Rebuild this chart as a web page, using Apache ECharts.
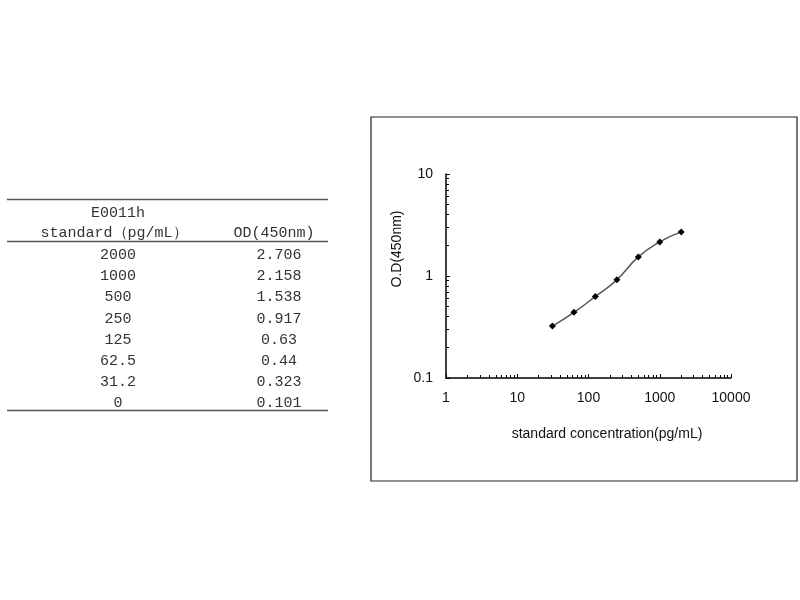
<!DOCTYPE html>
<html>
<head>
<meta charset="utf-8">
<script src="https://cdn.jsdelivr.net/npm/echarts@6/dist/echarts.min.js"></script>
<style>
html,body{margin:0;padding:0;background:#fff;}
#c{width:800px;height:600px;}
</style>
</head>
<body>
<div id="c"></div>
<script>
// ---- data ----
const tableTitle = 'E0011h';
const colHeaders = ['standard（pg/mL）', 'OD(450nm)'];
const standards = [2000, 1000, 500, 250, 125, 62.5, 31.2, 0];
const odValues = [2.706, 2.158, 1.538, 0.917, 0.63, 0.44, 0.323, 0.101];
const xTickValues = [1, 10, 100, 1000, 10000];
const yTickValues = [0.1, 1, 10];
const xName = 'standard concentration(pg/mL)';
const yName = 'O.D(450nm)';

// plotted points (log axis cannot show 0)
const points = standards.map((s, i) => [s, odValues[i]]).filter(p => p[0] > 0).reverse();

const chart = echarts.init(document.getElementById('c'), null, {renderer: 'canvas'});

const tableFont = '15px "Liberation Mono", "DejaVu Sans Mono", monospace';
const tableColor = '#333';
const chartFont = '14px "Liberation Sans", Arial, sans-serif';
const col1X = 118, col2X = 279;
const graphics = [];
// table rules
[199.5, 241.5, 410.5].forEach(y => {
  graphics.push({type: 'line', shape: {x1: 7, y1: y, x2: 328, y2: y}, style: {stroke: '#555', lineWidth: 1.5}});
});
graphics.push({type: 'text', x: col1X, y: 213, style: {text: tableTitle, font: tableFont, fill: tableColor, align: 'center', verticalAlign: 'middle'}});
graphics.push({type: 'text', x: col1X - 4, y: 233, style: {text: colHeaders[0], font: tableFont, fill: tableColor, align: 'center', verticalAlign: 'middle'}});
graphics.push({type: 'text', x: col2X - 5, y: 233, style: {text: colHeaders[1], font: tableFont, fill: tableColor, align: 'center', verticalAlign: 'middle'}});
standards.forEach((s, i) => {
  const y = 255 + i * 21.2;
  graphics.push({type: 'text', x: col1X, y: y, style: {text: String(s), font: tableFont, fill: tableColor, align: 'center', verticalAlign: 'middle'}});
  graphics.push({type: 'text', x: col2X, y: y, style: {text: String(odValues[i]), font: tableFont, fill: tableColor, align: 'center', verticalAlign: 'middle'}});
});
// chart frame
graphics.push({type: 'rect', shape: {x: 371, y: 117, width: 426, height: 364}, style: {fill: 'none', stroke: '#222', lineWidth: 1.2}, z: -1});
// axis names
graphics.push({type: 'text', x: 607, y: 434, style: {text: xName, font: chartFont, fill: '#111', align: 'center', verticalAlign: 'middle'}});
graphics.push({type: 'text', x: 397, y: 249, rotation: Math.PI / 2, style: {text: yName, font: chartFont, fill: '#111', align: 'center', verticalAlign: 'middle'}});

const axisCommon = {
  axisLine: {show: true, lineStyle: {color: '#000', width: 1.5}},
  axisTick: {show: true, inside: true, length: 4, lineStyle: {color: '#000'}},
  minorTick: {show: true, splitNumber: 9, length: 3, lineStyle: {color: '#000'}},
  splitLine: {show: false},
  minorSplitLine: {show: false},
  axisLabel: {color: '#111', fontSize: 14, fontFamily: '"Liberation Sans", Arial, sans-serif', margin: 13,
    formatter: v => String(+v.toPrecision(6))}
};

chart.setOption({
  animation: false,
  graphic: graphics,
  grid: {left: 446, top: 174, width: 285, height: 204, containLabel: false},
  xAxis: Object.assign({type: 'log', logBase: 10, min: xTickValues[0], max: xTickValues[xTickValues.length - 1]}, axisCommon),
  yAxis: Object.assign({type: 'log', logBase: 10, min: yTickValues[0], max: yTickValues[yTickValues.length - 1]}, axisCommon),
  series: [{
    type: 'line',
    data: points,
    smooth: 0.5,
    symbol: 'diamond',
    symbolSize: 7,
    itemStyle: {color: '#000'},
    lineStyle: {color: '#555', width: 1.5}
  }]
});
</script>
</body>
</html>
